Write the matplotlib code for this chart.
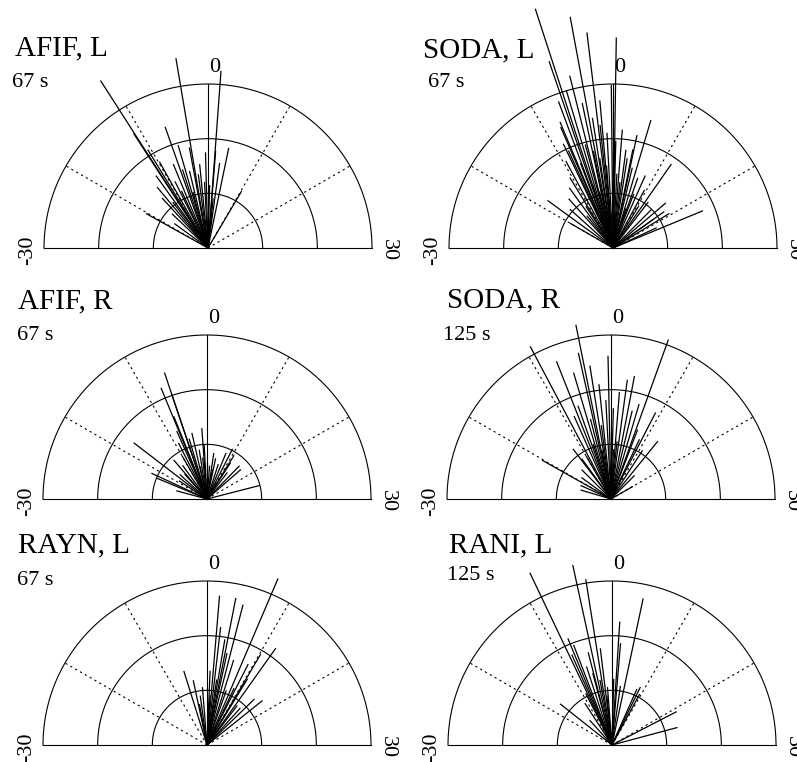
import numpy as np
import matplotlib
matplotlib.use('Agg')
import matplotlib.pyplot as plt

plt.rcParams['font.family'] = ['Liberation Serif', 'DejaVu Serif']

# panel labels
titles = ['AFIF, L', 'SODA, L', 'AFIF, R', 'SODA, R', 'RAYN, L', 'RANI, L']
durations = ['67 s', '67 s', '67 s', '125 s', '67 s', '125 s']

# direction of each vector (-30..30) and its length (outer ring = 1)
afif_l_angle = [-10.9, -3.2, 1.4, -6.5, -11.0, 3.9, -0.5, 1.5, -5.4, -1.9, 10.2, -20.3,
                -14.2, -11.9, -8.3, -3.5, 2.6, -10.5, -9.8, -7.5, -6.0, -4.5, -2.5, -1.0,
                0.5, -15.5, -12.5, -8.8, -13.3, -5.0, 2.0, -18.0]
afif_l_len = [1.21, 1.17, 1.08, 0.78, 0.83, 0.62, 0.58, 0.59, 0.65, 0.51, 0.40, 0.43,
              0.41, 0.54, 0.38, 0.62, 0.52, 0.70, 0.60, 0.55, 0.50, 0.48, 0.45, 0.40,
              0.38, 0.30, 0.35, 0.45, 0.48, 0.35, 0.30, 0.25]

soda_l_angle = [-6.0, -3.5, -2.3, 0.3, -6.3, -4.7, -0.2, 5.5, -7.6, 11.6, 22.5, 18.2,
                -18.0, 18.2, 21.7, -1.7, 3.8, -5.5, -6.8, -4.0, -3.0, -2.0, -1.0, 0.5,
                1.5, 2.5, 3.0, 4.5, 6.5, 8.0, 9.5, 12.5, 15.0, -8.5, -9.5, -10.5,
                -12.0, -14.0, -16.0, -20.0, -5.0, -3.8, -2.8, -1.5, 0.0, 1.0, 2.0, -7.0,
                -6.0, -4.5, 4.0, 7.0, 16.5, 19.5, -11.0, 10.5, -13.0, 6.0, -7.8, -8.2]
soda_l_len = [1.53, 1.43, 1.32, 1.28, 1.20, 1.08, 0.99, 0.81, 0.83, 0.62, 0.59, 0.38,
              0.49, 0.30, 0.29, 0.90, 0.61, 1.00, 0.95, 0.90, 0.80, 0.75, 0.70, 0.65,
              0.72, 0.60, 0.55, 0.50, 0.45, 0.48, 0.40, 0.35, 0.33, 0.70, 0.60, 0.50,
              0.45, 0.40, 0.35, 0.30, 0.65, 0.60, 0.55, 0.50, 0.60, 0.45, 0.40, 0.55,
              0.40, 0.35, 0.70, 0.35, 0.42, 0.40, 0.30, 0.30, 0.25, 0.25, 0.80, 0.65]

afif_r_angle = [-6.2, -7.5, -6.2, -17.5, -1.4, 25.2, -7.3, 14.8, 9.0, -22.5, -4.3, -25.0,
                2.8, 16.3, -8.0, -5.5, -3.0, -2.0, 0.0, 1.5, 4.0, 6.0, 11.0, 12.5,
                -10.0, -12.0, -14.0, -16.0, -19.0, -9.0, 3.5, 7.5, -1.0, -4.0, -21.7,
                -13.5, 10.6]
afif_r_len = [0.81, 0.73, 0.67, 0.56, 0.43, 0.33, 0.54, 0.28, 0.34, 0.33, 0.41, 0.19,
              0.28, 0.27, 0.45, 0.38, 0.30, 0.25, 0.22, 0.20, 0.25, 0.22, 0.26, 0.20,
              0.30, 0.25, 0.20, 0.22, 0.20, 0.38, 0.18, 0.30, 0.33, 0.20, 0.37,
              0.31, 0.31]

soda_r_angle = [-9.3, -3.8, 6.6, -7.2, -0.4, -4.2, -3.0, 3.6, 9.1, 13.0, -20.2, -12.4,
                2.6, -24.5, -5.5, -2.0, -1.0, 0.5, 1.5, 4.5, 5.5, 7.0, 8.5, 11.0,
                -6.5, -8.0, -4.8, -2.5, 0.0, 2.0, -10.0, -15.0, -18.0, 15.0, 20.0, -6.0,
                -3.5, 1.0, -12.0, -22.0]
soda_r_len = [1.05, 1.08, 1.03, 0.90, 0.87, 0.91, 0.82, 0.76, 0.59, 0.45, 0.48, 0.38,
              0.73, 0.19, 0.80, 0.70, 0.60, 0.55, 0.65, 0.55, 0.60, 0.45, 0.40, 0.35,
              0.60, 0.55, 0.50, 0.45, 0.40, 0.35, 0.30, 0.25, 0.22, 0.20, 0.15, 0.35,
              0.30, 0.30, 0.30, 0.20]

rayn_l_angle = [7.7, 1.6, 3.7, 4.8, 2.2, 11.8, -5.8, 17.1, 15.3, -2.6, 10.2, 5.8,
                10.5, 4.1, 0.8, 2.8, 6.5, 8.5, 12.5, -4.0, -1.5, 3.2, 9.0, 14.0,
                -3.5, 1.2]
rayn_l_len = [1.10, 0.91, 0.91, 0.88, 0.72, 0.72, 0.47, 0.43, 0.40, 0.30, 0.64, 0.54,
              0.47, 0.57, 0.45, 0.40, 0.35, 0.38, 0.30, 0.40, 0.35, 0.65, 0.55, 0.30,
              0.25, 0.30]

rani_l_angle = [-8.5, -4.1, -3.0, 4.0, 1.2, -7.5, -4.8, 1.6, 8.7, 20.9, 25.0, -17.2,
                8.0, -2.3, 2.7, -7.0, -6.0, -5.0, -3.5, -1.5, 0.5, -9.0, -11.0, 9.5,
                -8.0, -14.0, -2.0]
rani_l_len = [1.16, 1.12, 1.02, 0.91, 0.75, 0.70, 0.58, 0.62, 0.39, 0.44, 0.41, 0.40,
              0.37, 0.59, 0.36, 0.65, 0.50, 0.45, 0.40, 0.35, 0.40, 0.35, 0.30, 0.35,
              0.60, 0.20, 0.30]

panel_angles = [afif_l_angle, soda_l_angle, afif_r_angle, soda_r_angle, rayn_l_angle, rani_l_angle]
panel_lengths = [afif_l_len, soda_l_len, afif_r_len, soda_r_len, rayn_l_len, rani_l_len]

ring_levels = [1 / 3, 2 / 3, 1.0]
dotted_spokes = [-20, -10, 10, 20]


def to_xy(angle, r):
    # -30..30 spread over the half circle, 0 pointing up
    t = np.deg2rad(np.asarray(angle, dtype=float) * 3.0)
    return r * np.sin(t), r * np.cos(t)


W, H = 797, 762
R = 164  # outer ring radius in pixels
origins = [(208, 248), (613, 248), (207, 499), (611, 499), (207, 745), (612, 745)]
title_pos = [(-1.177, 1.177), (-1.159, 1.165), (-1.152, 1.165),
             (-1.0, 1.17), (-1.152, 1.177), (-0.994, 1.177)]
dur_pos = [(-1.195, 0.98), (-1.128, 0.98), (-1.159, 0.97),
           (-1.024, 0.97), (-1.159, 0.976), (-1.006, 1.006)]

fig = plt.figure(figsize=(W / 100, H / 100), dpi=100)

for i in range(6):
    ox, oy = origins[i]
    ax = fig.add_axes([(ox - 1.3 * R) / W, (H - (oy + 0.2 * R)) / H, 2.6 * R / W, 1.8 * R / H])
    ax.set_xlim(-1.3, 1.3)
    ax.set_ylim(-0.2, 1.6)
    ax.axis('off')

    # rings
    arc = np.linspace(-30, 30, 200)
    for lev in ring_levels:
        x, y = to_xy(arc, lev)
        ax.plot(x, y, color='black', lw=0.8, clip_on=False)

    # spokes
    for a in dotted_spokes:
        x, y = to_xy([0, a], np.array([0, 1.0]))
        ax.plot([0, x[1]], [0, y[1]], color='black', lw=0.8, linestyle=(0, (2, 3)))
    ax.plot([-1, 1], [0, 0], color='black', lw=0.8)
    ax.plot([0, 0], [0, 1], color='black', lw=0.8)

    # vectors
    x, y = to_xy(panel_angles[i], np.array(panel_lengths[i]))
    for xe, ye in zip(x, y):
        ax.plot([0, xe], [0, ye], color='black', lw=0.9, clip_on=False)

    # labels
    ax.text(0.04, 1.1, '0', ha='center', va='center', fontsize=16)
    ax.text(-1.1, -0.012, '-30', ha='center', va='center', rotation=90, fontsize=16)
    ax.text(1.1, -0.012, '30', ha='center', va='center', rotation=270, fontsize=16)
    ax.text(title_pos[i][0], title_pos[i][1], titles[i], ha='left', va='baseline', fontsize=21)
    ax.text(dur_pos[i][0], dur_pos[i][1], durations[i], ha='left', va='baseline', fontsize=16)

fig.savefig('out.png', dpi=100)
